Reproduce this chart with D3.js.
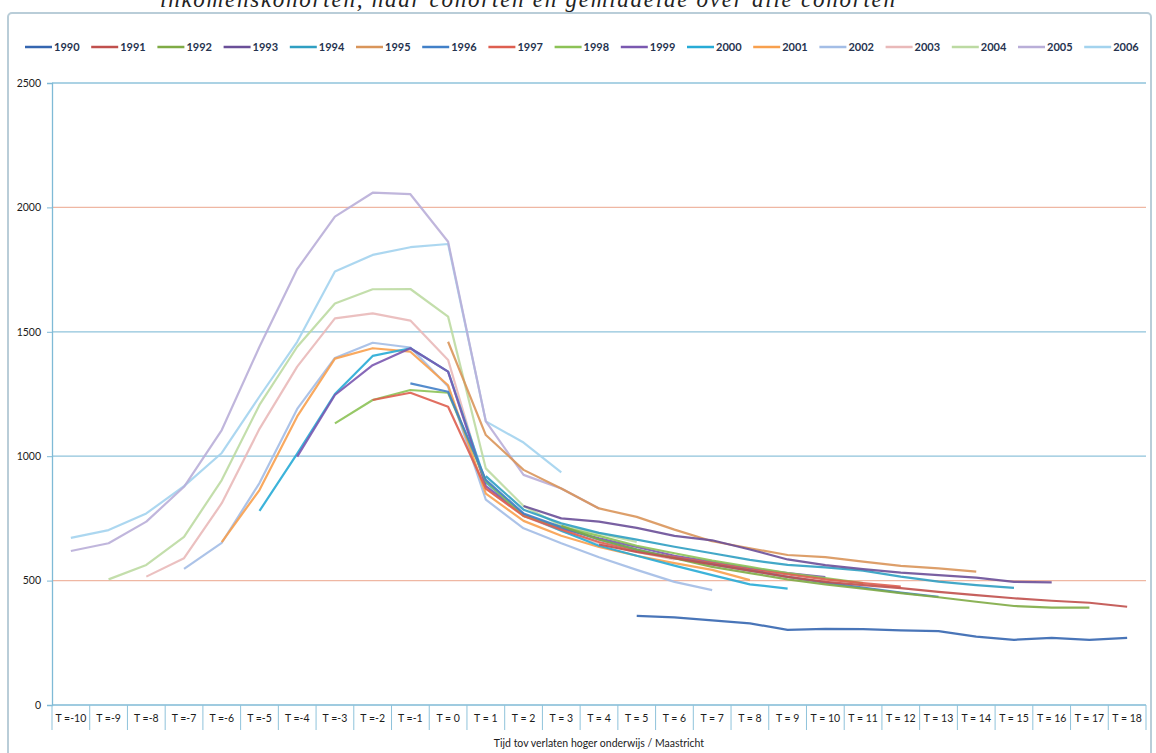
<!DOCTYPE html>
<html>
<head>
<meta charset="utf-8">
<script src="https://cdn.jsdelivr.net/npm/d3@7"></script>
<style>
  body { margin: 0; background: #fff; }
  svg { display: block; }
</style>
</head>
<body>
<div id="chart"></div>
<script>
/* categories on the x axis */
var categories = ["T =-10", "T =-9", "T =-8", "T =-7", "T =-6", "T =-5", "T =-4", "T =-3", "T =-2", "T =-1",
                  "T = 0", "T = 1", "T = 2", "T = 3", "T = 4", "T = 5", "T = 6", "T = 7", "T = 8", "T = 9",
                  "T = 10", "T = 11", "T = 12", "T = 13", "T = 14", "T = 15", "T = 16", "T = 17", "T = 18"];

var cohorts = ["1990", "1991", "1992", "1993", "1994", "1995", "1996", "1997", "1998",
               "1999", "2000", "2001", "2002", "2003", "2004", "2005", "2006"];

/* first category (T) of each cohort */
var firstT = [5, 4, 3, 2, 1, 0, -1, -2, -3, -4, -5, -6, -7, -8, -9, -10, -10];

/* values per cohort, starting at firstT */
var v1990 = [358, 352, 340, 328, 302, 306, 305, 300, 297, 275, 262, 270, 262, 270];
var v1991 = [645, 615, 590, 565, 540, 515, 495, 482, 470, 455, 442, 429, 419, 411, 395];
var v1992 = [720, 665, 625, 590, 555, 530, 505, 485, 468, 450, 433, 415, 398, 391, 391];
var v1993 = [800, 750, 737, 712, 680, 662, 625, 585, 562, 546, 532, 522, 512, 495, 493];
var v1994 = [920, 785, 730, 692, 665, 636, 610, 583, 563, 553, 540, 516, 496, 482, 471];
var v1995 = [1460, 1085, 945, 870, 790, 756, 705, 658, 630, 603, 594, 576, 559, 549, 536];
var v1996 = [1293, 1259, 905, 770, 715, 665, 625, 590, 565, 540, 515, 492, 472, 452, 435];
var v1997 = [1226, 1255, 1199, 870, 760, 705, 655, 620, 595, 570, 545, 525, 505, 490, 476];
var v1998 = [1132, 1226, 1266, 1255, 900, 760, 715, 680, 640, 610, 580, 555, 530, 510, 490];
var v1999 = [998, 1246, 1366, 1434, 1340, 880, 765, 710, 670, 635, 600, 575, 550, 530, 514];
var v2000 = [780, 1010, 1250, 1403, 1434, 1340, 895, 765, 700, 640, 600, 560, 522, 485, 468];
var v2001 = [655, 864, 1160, 1392, 1434, 1420, 1285, 850, 740, 680, 635, 600, 570, 543, 502];
var v2002 = [547, 652, 892, 1190, 1395, 1456, 1437, 1280, 825, 710, 650, 594, 543, 495, 462];
var v2003 = [516, 590, 811, 1110, 1360, 1554, 1574, 1545, 1387, 870, 760, 700, 650, 615, 585];
var v2004 = [505, 563, 676, 904, 1206, 1440, 1614, 1671, 1672, 1561, 951, 800, 720, 690, 655];
var v2005 = [619, 650, 737, 877, 1105, 1440, 1752, 1963, 2059, 2053, 1862, 1140, 925, 870, 790];
var v2006 = [672, 703, 770, 880, 1013, 1240, 1460, 1742, 1809, 1840, 1853, 1140, 1055, 935];

var values = [v1990, v1991, v1992, v1993, v1994, v1995, v1996, v1997, v1998,
              v1999, v2000, v2001, v2002, v2003, v2004, v2005, v2006];

var colors = ["#3566b0", "#c0504d", "#7fab45", "#6a4f98", "#2f9fc2", "#d9955a",
              "#4180c8", "#de5f50", "#8cc256", "#7a58b0", "#27abd6", "#f8a04e",
              "#a3bde6", "#e9b9b9", "#bcdaa2", "#b9aed8", "#a3d3ee"];

var yTicks = [0, 500, 1000, 1500, 2000, 2500];

/* sizes */
var width = 1156,
    height = 753,
    margin = {top: 83, right: 10, bottom: 48, left: 52},
    plotW = 1146 - margin.left,
    plotH = 705 - margin.top;

var svg = d3.select("#chart")
            .append("svg")
            .attr("width", width)
            .attr("height", height);

svg.append("rect")
    .attr("width", width)
    .attr("height", height)
    .attr("fill", "#fff");

/* title above the chart, cut by the page edge as in the source */
svg.append("text")
    .attr("x", 160)
    .attr("y", 7)
    .attr("font-family", "Liberation Serif")
    .attr("font-style", "italic")
    .attr("font-size", 23)
    .attr("fill", "#222")
    .attr("textLength", 735)
    .text("inkomenskohorten, naar cohorten en gemiddelde over alle cohorten");

/* chart frame */
svg.append("rect")
    .attr("x", 8)
    .attr("y", 13)
    .attr("width", 1143)
    .attr("height", 760)
    .attr("rx", 4)
    .attr("fill", "#fff")
    .attr("stroke", "#b9cdd8")
    .attr("stroke-width", 2);

var x = d3.scaleBand()
    .domain(categories)
    .range([0, plotW])
    .padding(0);

var y = d3.scaleLinear()
    .domain([0, 2500])
    .range([plotH, 0]);

var chart = svg.append("g")
    .attr("transform", "translate(" + margin.left + "," + margin.top + ")");

/* grid lines */
chart.append("g")
    .selectAll("line")
    .data(yTicks.filter(function(d) { return d > 0; }))
    .enter().append("line")
        .attr("x1", 0)
        .attr("x2", plotW)
        .attr("y1", function(d) { return y(d); })
        .attr("y2", function(d) { return y(d); })
        .attr("stroke", function(d) { return (d === 500 || d === 2000) ? "#efb7a3" : "#8fc3db"; })
        .attr("stroke-width", 1.3);

/* y axis */
var yAxis = d3.axisLeft(y)
    .tickValues(yTicks)
    .tickSize(5)
    .tickPadding(6)
    .tickFormat(d3.format("d"));

var yg = chart.append("g").call(yAxis);
yg.select(".domain").attr("stroke", "#7fbad6").attr("stroke-width", 1.3);
yg.selectAll(".tick line").attr("stroke", "#7fbad6");
yg.selectAll("text")
    .attr("font-family", "Lato")
    .attr("font-size", 10.5)
    .attr("fill", "#1c1c1c");

/* x axis with boxed categories */
var xg = chart.append("g")
    .attr("transform", "translate(0," + plotH + ")");

xg.append("line")
    .attr("x1", 0)
    .attr("x2", plotW)
    .attr("stroke", "#7fbad6")
    .attr("stroke-width", 1.3);

xg.selectAll(".sep")
    .data(categories.concat(["end"]))
    .enter().append("line")
        .attr("class", "sep")
        .attr("x1", function(d, i) { return i < categories.length ? x(d) : plotW; })
        .attr("x2", function(d, i) { return i < categories.length ? x(d) : plotW; })
        .attr("y1", 0)
        .attr("y2", 25)
        .attr("stroke", "#8fc3db")
        .attr("stroke-width", 1);

var xAxis = d3.axisBottom(x).tickSize(0).tickPadding(10);
var xa = xg.append("g").call(xAxis);
xa.select(".domain").remove();
xa.selectAll("text")
    .attr("font-family", "Lato")
    .attr("font-size", 10.5)
    .attr("fill", "#1c1c1c");

/* axis label */
svg.append("text")
    .attr("x", margin.left + plotW / 2)
    .attr("y", 747)
    .attr("text-anchor", "middle")
    .attr("font-family", "Lato")
    .attr("font-size", 10.5)
    .attr("fill", "#1c1c1c")
    .text("Tijd tov verlaten hoger onderwijs / Maastricht");

/* build series */
var series = cohorts.map(function(c, i) {
    var start = categories.indexOf(firstT[i] < 0 ? "T =" + firstT[i] : "T = " + firstT[i]);
    return {
        key: c,
        color: colors[i],
        points: values[i].map(function(v, j) { return {cat: categories[start + j], value: v}; })
    };
});

var line = d3.line()
    .x(function(d) { return x(d.cat) + x.bandwidth() / 2; })
    .y(function(d) { return y(d.value); });

/* lighter series underneath */
chart.append("g")
    .selectAll("path")
    .data(series.slice().reverse())
    .enter().append("path")
        .attr("d", function(d) { return line(d.points); })
        .attr("fill", "none")
        .attr("stroke", function(d) { return d.color; })
        .attr("stroke-width", 2.2)
        .attr("stroke-opacity", 0.9)
        .attr("stroke-linejoin", "round");

/* legend */
var legend = svg.append("g")
    .selectAll("g")
    .data(series)
    .enter().append("g")
        .attr("transform", function(d, i) { return "translate(" + (25 + i * 66.2) + ",47)"; });

legend.append("line")
    .attr("x1", 0)
    .attr("x2", 27)
    .attr("stroke", function(d) { return d.color; })
    .attr("stroke-width", 2.5);

legend.append("text")
    .attr("x", 29)
    .attr("y", 4)
    .attr("font-family", "Lato")
    .attr("font-size", 11)
    .attr("font-weight", "bold")
    .attr("fill", "#26334f")
    .text(function(d) { return d.key; });
</script>
</body>
</html>
